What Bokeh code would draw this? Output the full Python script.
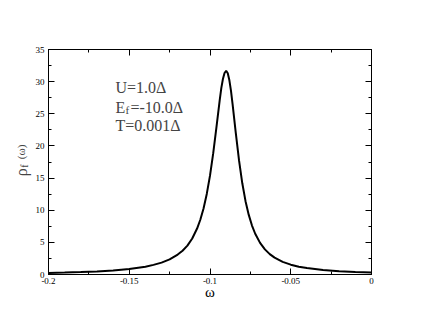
import math
from bokeh.plotting import figure
from bokeh.layouts import row
from bokeh.models import Range1d, FixedTicker, LinearAxis, Label, CustomJSTickFormatter
from bokeh.embed import file_html
from bokeh.resources import INLINE

# spectral function
omega = [-0.200, -0.190, -0.180, -0.170, -0.160, -0.150, -0.140, -0.135, -0.130,
         -0.125, -0.120, -0.117, -0.114, -0.111, -0.108, -0.106, -0.104, -0.102,
         -0.100, -0.098, -0.096, -0.094, -0.093, -0.092, -0.091, -0.090, -0.089,
         -0.088, -0.087, -0.086, -0.084,
         -0.082, -0.080, -0.078, -0.076, -0.074, -0.072, -0.069, -0.066, -0.063,
         -0.060, -0.055, -0.050, -0.045, -0.040, -0.030, -0.020, -0.010, 0.000]
rho = [0.25, 0.30, 0.37, 0.47, 0.62, 0.85, 1.20, 1.50, 1.85,
       2.35, 3.10, 3.70, 4.50, 5.60, 7.15, 8.52, 10.28, 12.53,
       15.37, 18.87, 22.93, 27.09, 29.00, 30.41, 31.35, 31.70, 31.30,
       30.21, 28.55, 26.47, 21.95,
       17.71, 14.19, 11.41, 9.27, 7.62, 6.34, 4.92, 3.91, 3.17,
       2.62, 1.97, 1.53, 1.22, 1.00, 0.70, 0.52, 0.40, 0.33]

x_ticks = [-0.2, -0.15, -0.1, -0.05, 0.0]
x_tick_labels = ["-0.2", "-0.15", "-0.1", "-0.05", "0"]
x_minor = [-0.175, -0.125, -0.075, -0.025]
y_ticks = [0, 5, 10, 15, 20, 25, 30, 35]
y_tick_labels = ["0", "5", "10", "15", "20", "25", "30", "35"]
y_minor = [2.5, 7.5, 12.5, 17.5, 22.5, 27.5, 32.5]

params = ["U=1.0\u0394", "E", "f", "=-10.0\u0394", "T=0.001\u0394"]
y_label_parts = ["\u03c1", "f", "(\u03c9)"]
x_label = "\u03c9"

SERIF = "'Liberation Serif'"
H = 316
LW = 32  # width of the strip that carries the vertical axis title

# ---- strip with the rotated y-axis title ----
q = figure(width=LW, height=H, x_range=Range1d(0, LW), y_range=Range1d(0, H),
           output_backend="svg", toolbar_location=None, min_border=0,
           x_axis_type=None, y_axis_type=None)
q.outline_line_color = None
q.background_fill_color = "white"
q.border_fill_color = "white"
q.add_layout(Label(x=21, y=H - 178, text=y_label_parts[0], angle=math.pi / 2,
                   text_font=SERIF, text_font_size="16px", text_baseline="middle"))
q.add_layout(Label(x=24, y=H - 166, text=y_label_parts[1], angle=math.pi / 2,
                   text_font=SERIF, text_font_size="10px", text_baseline="middle"))
q.add_layout(Label(x=20, y=H - 154, text=y_label_parts[2], angle=math.pi / 2,
                   text_font=SERIF, text_font_size="11px", text_baseline="middle"))

# ---- main plot ----
p = figure(width=414 - LW, height=H,
           x_range=Range1d(-0.2, 0.0), y_range=Range1d(0, 35),
           output_backend="svg", toolbar_location=None,
           min_border_left=48 - LW, min_border_right=43,
           min_border_top=49, min_border_bottom=42)
p.grid.visible = False
p.outline_line_color = "black"
p.background_fill_color = "white"
p.border_fill_color = "white"

blank = CustomJSTickFormatter(code="return ''")
p.add_layout(LinearAxis(formatter=blank), "above")
p.add_layout(LinearAxis(formatter=blank), "right")

xt = FixedTicker(ticks=x_ticks, minor_ticks=x_minor)
yt = FixedTicker(ticks=y_ticks, minor_ticks=y_minor)
for ax in p.xaxis:
    ax.ticker = xt
for ax in p.yaxis:
    ax.ticker = yt
p.below[0].major_label_overrides = dict(zip(x_ticks, x_tick_labels))
p.left[0].major_label_overrides = dict(zip(y_ticks, y_tick_labels))

for ax in p.axis:
    ax.axis_line_color = "black"
    ax.axis_line_width = 1
    ax.major_tick_in = 6
    ax.major_tick_out = 0
    ax.minor_tick_in = 3
    ax.minor_tick_out = 0
    ax.major_tick_line_color = "black"
    ax.minor_tick_line_color = "black"
    ax.major_label_text_font = SERIF
    ax.major_label_text_font_size = "9px"
    ax.major_label_text_color = "black"
    ax.major_label_standoff = 3
p.left[0].major_label_standoff = 4

p.below[0].axis_label = x_label
p.below[0].axis_label_text_font = SERIF
p.below[0].axis_label_text_font_size = "15px"
p.below[0].axis_label_text_font_style = "normal"
p.below[0].axis_label_text_color = "black"
p.below[0].axis_label_standoff = -3

p.line(omega, rho, line_width=2, line_color="black")

# parameter annotations
tx = -0.1585
p.add_layout(Label(x=tx, y=29.1, text=params[0], text_font=SERIF,
                   text_font_size="16px", text_baseline="alphabetic"))
p.add_layout(Label(x=tx, y=26.0, text=params[1], text_font=SERIF,
                   text_font_size="16px", text_baseline="alphabetic"))
p.add_layout(Label(x=tx, y=26.0, x_offset=10, y_offset=-3, text=params[2],
                   text_font=SERIF, text_font_size="11px", text_baseline="alphabetic"))
p.add_layout(Label(x=tx, y=26.0, x_offset=15, text=params[3], text_font=SERIF,
                   text_font_size="16px", text_baseline="alphabetic"))
p.add_layout(Label(x=tx, y=23.2, text=params[4], text_font=SERIF,
                   text_font_size="16px", text_baseline="alphabetic"))

layout = row(q, p, spacing=0)
open("out.html", "w").write(file_html(layout, INLINE))
